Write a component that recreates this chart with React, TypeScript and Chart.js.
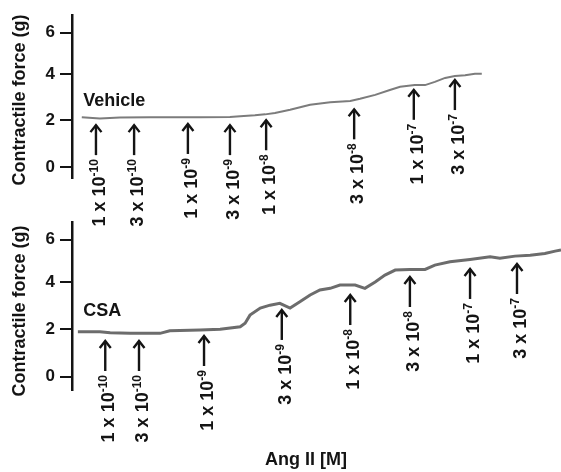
import React, { useEffect, useRef } from 'react';
import { Chart, registerables } from 'chart.js';

Chart.register(...registerables);

const W = 561;
const H = 472;
const FONT = '"Liberation Sans", Arial, Helvetica, sans-serif';

// y-axis ticks (as drawn in the figure)
const yTickValues = [0, 2, 4, 5.78];
const yTickLabels = ['0', '2', '4', '6'];

// Ang II doses
const doseMantissa = ['1', '3', '1', '3', '1', '3', '1', '3'];
const doseExponent = ['-10', '-10', '-9', '-9', '-8', '-8', '-7', '-7'];

// Vehicle trace (time in arbitrary units, force in g)
const vehicleTime = [2.0, 5.7, 9.8, 16.0, 26.2, 32.3, 34.4, 37.4, 39.5, 41.5, 44.6, 48.7, 52.8, 56.9, 58.9, 62.0, 65.0, 67.1, 70.1, 72.2, 74.2, 76.3, 78.3, 80.4, 82.4, 83.8];
const vehicleForce = [2.14, 2.08, 2.12, 2.14, 2.14, 2.15, 2.18, 2.22, 2.26, 2.32, 2.46, 2.67, 2.78, 2.84, 2.93, 3.10, 3.31, 3.45, 3.52, 3.52, 3.66, 3.83, 3.91, 3.94, 4.01, 4.01];
const vehicleArrowTime = [4.9, 12.7, 23.7, 32.3, 39.7, 57.7, 69.9, 78.3];
const vehicleArrowTip = [1.84, 1.84, 1.89, 1.84, 2.05, 2.52, 3.36, 3.78];

// CSA trace
const csaTime = [1.2, 5.7, 7.8, 11.9, 18.0, 20.0, 26.2, 30.3, 34.4, 35.4, 36.4, 38.5, 40.5, 42.5, 44.6, 46.6, 48.7, 50.7, 52.8, 54.8, 57.9, 59.9, 62.0, 64.0, 66.1, 69.1, 72.2, 74.2, 77.3, 81.4, 85.5, 87.5, 90.6, 93.7, 96.7, 98.8, 100];
const csaForce = [1.90, 1.90, 1.86, 1.83, 1.83, 1.94, 1.97, 2.00, 2.11, 2.26, 2.60, 2.90, 3.02, 3.10, 2.90, 3.16, 3.45, 3.66, 3.73, 3.87, 3.87, 3.73, 4.00, 4.29, 4.50, 4.53, 4.53, 4.71, 4.85, 4.95, 5.06, 5.00, 5.09, 5.13, 5.20, 5.30, 5.35];
const csaArrowTime = [6.8, 13.7, 27.0, 42.9, 56.9, 69.1, 81.4, 91.0];
const csaArrowTip = [1.55, 1.55, 1.76, 2.86, 3.49, 4.25, 4.59, 4.80];

type PanelCfg = {
  name: string;
  nameTime: number;
  nameForce: number;
  time: number[];
  force: number[];
  arrowTime: number[];
  arrowTip: number[];
  yMin: number;
  yMax: number;
  padTop: number;
  padBottom: number;
  lineColor: string;
  lineWidth: number;
  titleCenterY: number;
  xTitle?: string;
};

function makeChart(canvas: HTMLCanvasElement, cfg: PanelCfg) {
  const overlay = {
    id: 'overlay' + cfg.name,
    afterDraw(chart: any) {
      const ctx = chart.ctx as CanvasRenderingContext2D;
      const xs = chart.scales.x;
      const ys = chart.scales.y;
      ctx.save();
      ctx.fillStyle = '#141414';
      ctx.strokeStyle = '#141414';

      // panel name
      ctx.font = `bold 18px ${FONT}`;
      ctx.textAlign = 'left';
      ctx.textBaseline = 'alphabetic';
      ctx.fillText(cfg.name, xs.getPixelForValue(cfg.nameTime), ys.getPixelForValue(cfg.nameForce));

      // arrows with dose labels
      cfg.arrowTime.forEach((t, i) => {
        const x = xs.getPixelForValue(t);
        const y = ys.getPixelForValue(cfg.arrowTip[i]);
        ctx.lineWidth = 2.4;
        ctx.lineCap = 'butt';
        ctx.lineJoin = 'miter';
        ctx.beginPath();
        ctx.moveTo(x, y + 1);
        ctx.lineTo(x, y + 31);
        ctx.stroke();
        ctx.beginPath();
        ctx.moveTo(x - 5.5, y + 8);
        ctx.lineTo(x, y + 1);
        ctx.lineTo(x + 5.5, y + 8);
        ctx.stroke();

        ctx.save();
        ctx.translate(x + 9, y + 35);
        ctx.rotate(-Math.PI / 2);
        const main = `${doseMantissa[i]} x 10`;
        ctx.font = `bold 18px ${FONT}`;
        const mainW = ctx.measureText(main).width;
        ctx.font = `bold 12px ${FONT}`;
        const supW = ctx.measureText(doseExponent[i]).width;
        const total = mainW + supW;
        ctx.textAlign = 'left';
        ctx.font = `bold 18px ${FONT}`;
        ctx.fillText(main, -total, 0);
        ctx.font = `bold 12px ${FONT}`;
        ctx.fillText(doseExponent[i], -total + mainW, -7);
        ctx.restore();
      });

      // y title
      ctx.save();
      ctx.translate(24.5, cfg.titleCenterY);
      ctx.rotate(-Math.PI / 2);
      ctx.font = `bold 18px ${FONT}`;
      ctx.textAlign = 'center';
      ctx.fillText('Contractile force (g)', 0, 0);
      ctx.restore();

      if (cfg.xTitle) {
        ctx.font = `bold 18px ${FONT}`;
        ctx.textAlign = 'center';
        ctx.fillText(cfg.xTitle, 306, 465);
      }
      ctx.restore();
    },
  };

  return new Chart(canvas, {
    type: 'line',
    data: {
      datasets: [
        {
          data: cfg.time.map((t, i) => ({ x: t, y: cfg.force[i] })),
          borderColor: cfg.lineColor,
          borderWidth: cfg.lineWidth,
          pointRadius: 0,
          tension: 0,
          fill: false,
        },
      ],
    },
    options: {
      responsive: false,
      animation: false,
      devicePixelRatio: 1,
      layout: { padding: { top: cfg.padTop, bottom: cfg.padBottom, left: 0, right: 0 } },
      plugins: { legend: { display: false }, tooltip: { enabled: false }, title: { display: false } },
      scales: {
        x: { type: 'linear', min: 0, max: 100, display: false },
        y: {
          type: 'linear',
          min: cfg.yMin,
          max: cfg.yMax,
          afterFit: (scale: any) => {
            scale.width = 72;
          },
          afterBuildTicks: (scale: any) => {
            scale.ticks = yTickValues.map((v) => ({ value: v }));
          },
          ticks: {
            callback: (_v: any, index: number) => yTickLabels[index],
            font: { family: FONT, size: 17, weight: 'bold' },
            color: '#141414',
            padding: 5,
          },
          grid: {
            drawOnChartArea: false,
            drawTicks: true,
            tickLength: 12,
            lineWidth: 2,
            color: '#141414',
          },
          border: { display: true, color: '#141414', width: 2.5 },
        },
      },
    } as any,
    plugins: [overlay],
  });
}

export default function App() {
  const topRef = useRef<HTMLCanvasElement>(null);
  const botRef = useRef<HTMLCanvasElement>(null);

  useEffect(() => {
    const c1 = makeChart(topRef.current!, {
      name: 'Vehicle',
      nameTime: 2.3,
      nameForce: 2.6,
      time: vehicleTime,
      force: vehicleForce,
      arrowTime: vehicleArrowTime,
      arrowTip: vehicleArrowTip,
      yMin: -0.48,
      yMax: 6.53,
      padTop: 12,
      padBottom: H - 178,
      lineColor: '#7c7c7c',
      lineWidth: 2,
      titleCenterY: 100,
    });
    const c2 = makeChart(botRef.current!, {
      name: 'CSA',
      nameTime: 2.3,
      nameForce: 2.56,
      time: csaTime,
      force: csaForce,
      arrowTime: csaArrowTime,
      arrowTip: csaArrowTip,
      yMin: -0.56,
      yMax: 6.53,
      padTop: 222,
      padBottom: H - 390,
      lineColor: '#6c6c6c',
      lineWidth: 3,
      titleCenterY: 311,
      xTitle: 'Ang II [M]',
    });
    return () => {
      c1.destroy();
      c2.destroy();
    };
  }, []);

  const cs: React.CSSProperties = { position: 'absolute', left: 0, top: 0, display: 'block' };
  return (
    <div style={{ position: 'fixed', left: 0, top: 0, width: W, height: H, background: '#fff' }}>
      <canvas ref={topRef} width={W} height={H} style={cs} />
      <canvas ref={botRef} width={W} height={H} style={cs} />
    </div>
  );
}
